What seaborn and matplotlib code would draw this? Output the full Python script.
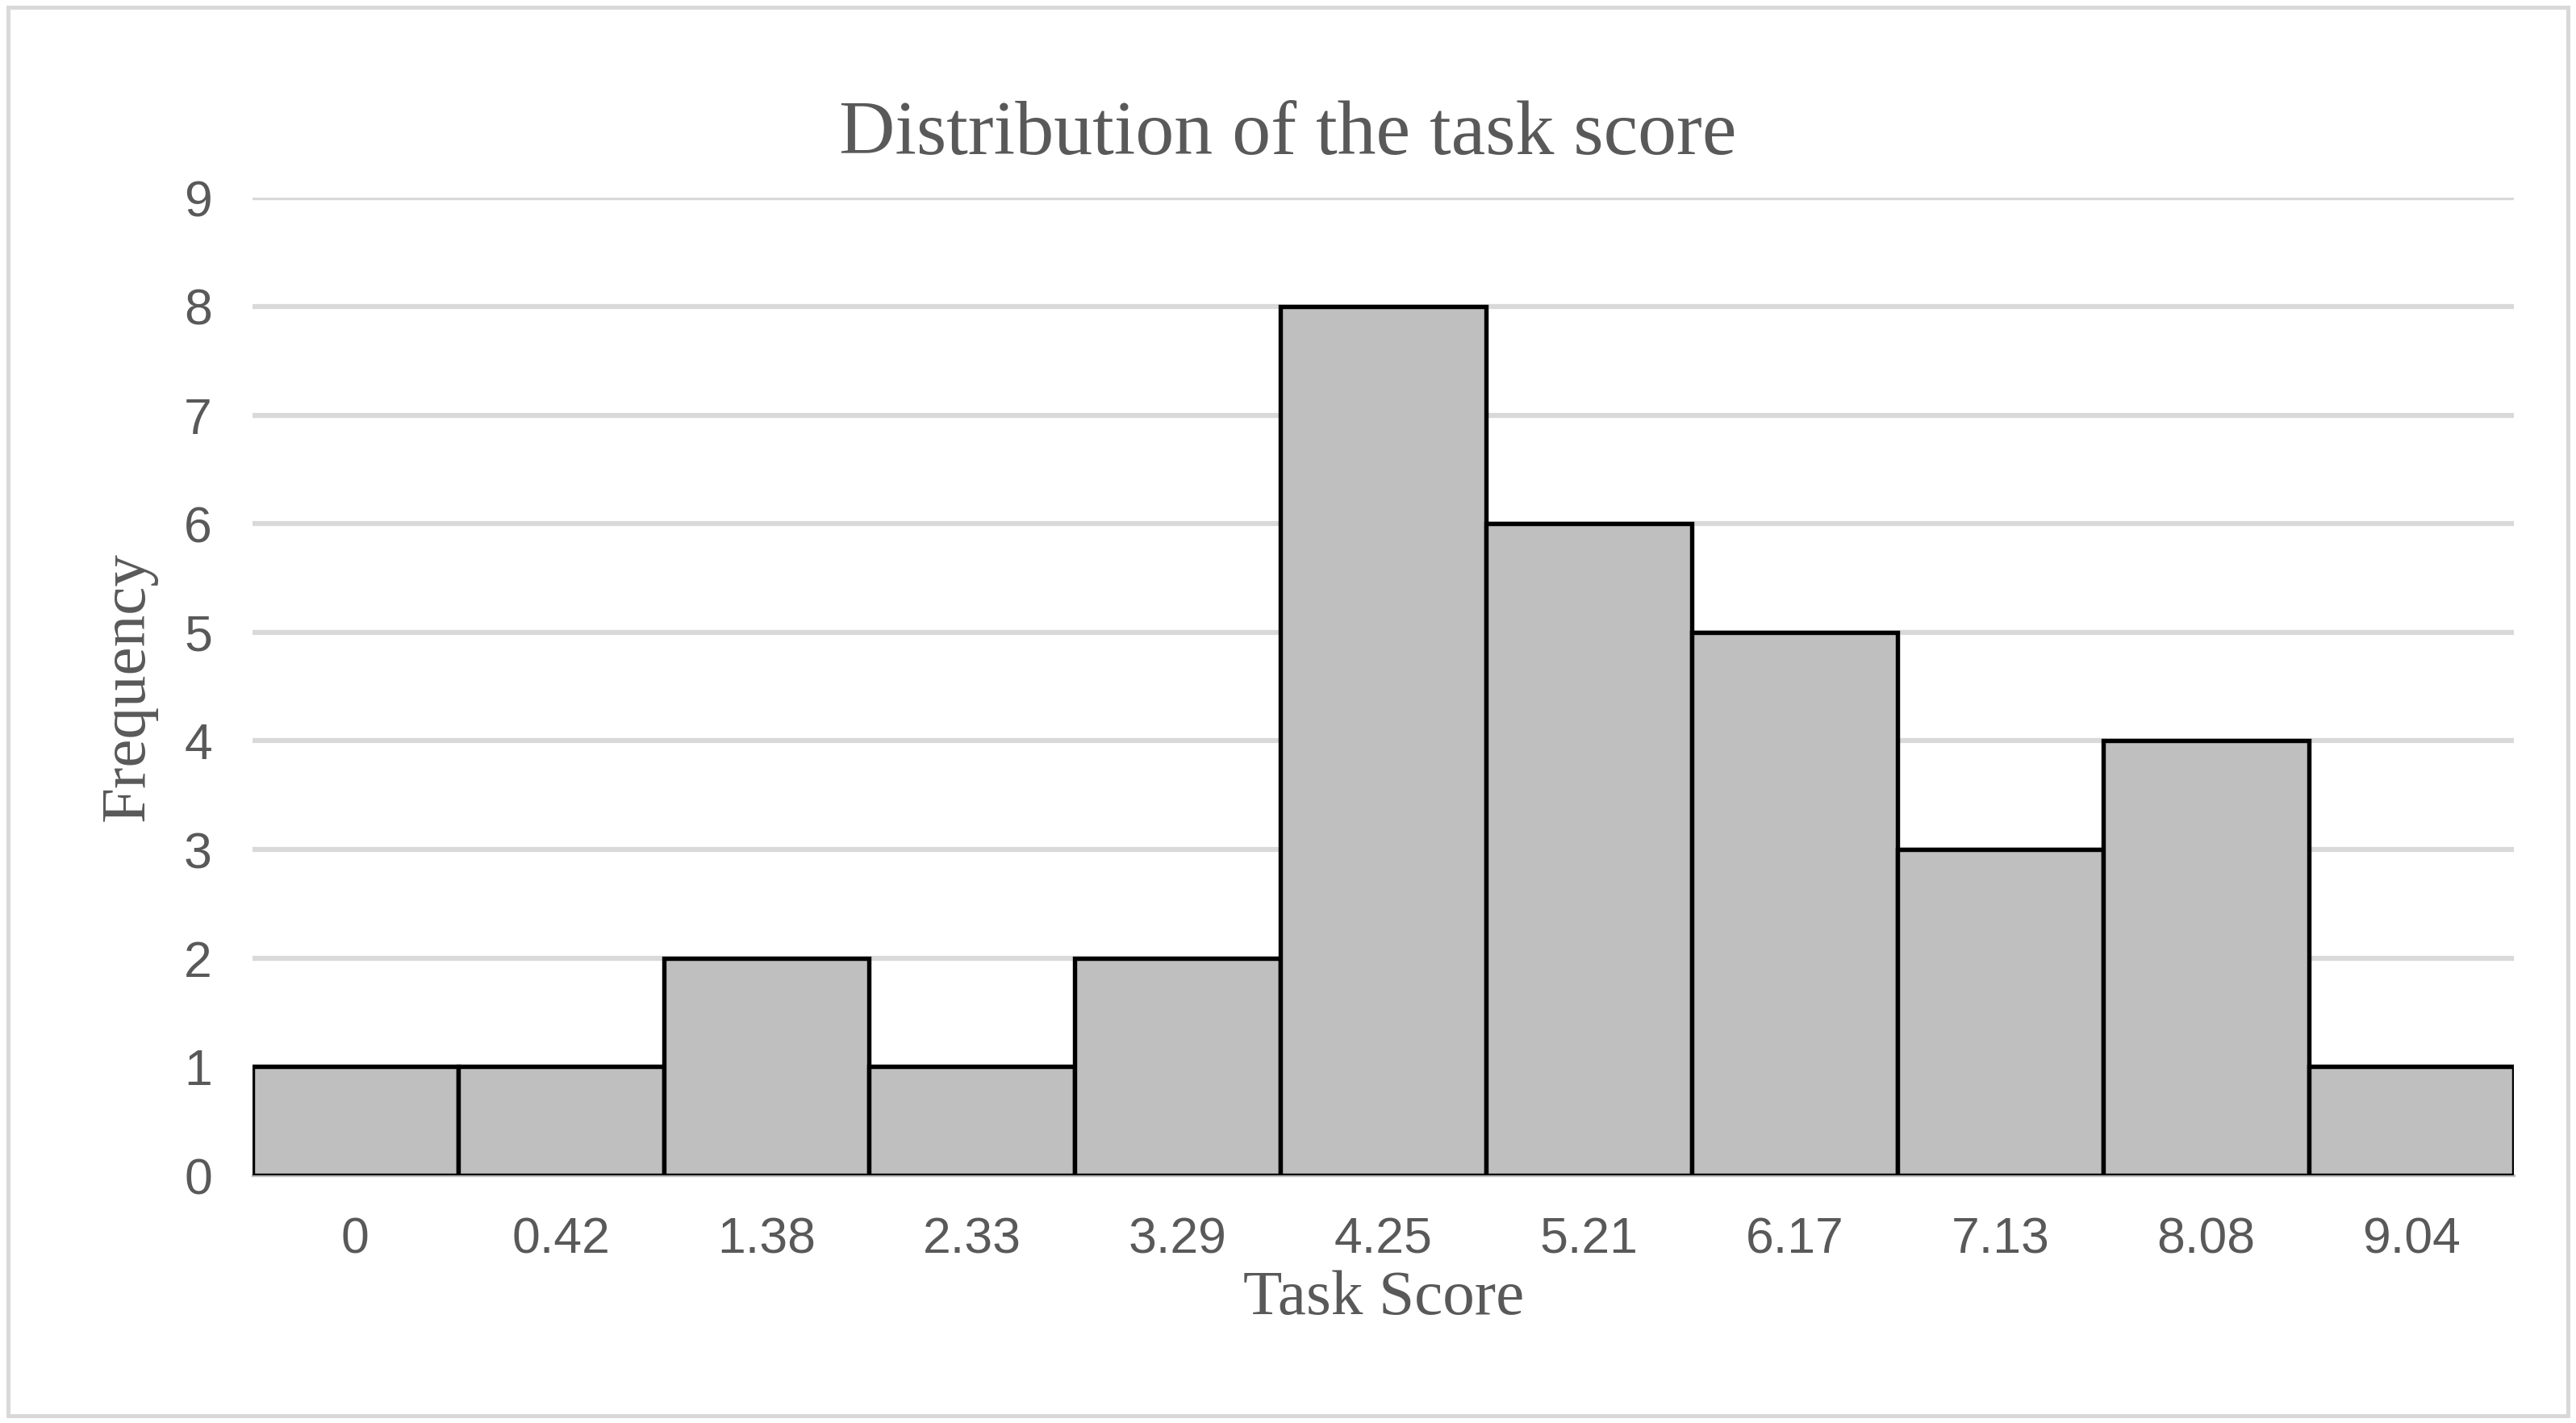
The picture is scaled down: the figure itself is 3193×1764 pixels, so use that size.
import matplotlib.pyplot as plt
import seaborn as sns
import pandas as pd

bins = ["0", "0.42", "1.38", "2.33", "3.29", "4.25", "5.21", "6.17", "7.13", "8.08", "9.04"]
counts = [1, 1, 2, 1, 2, 8, 6, 5, 3, 4, 1]

df = pd.DataFrame({"bin": bins, "count": counts})

sns.set_style("white")
plt.rcParams['font.family'] = ['Liberation Sans', 'DejaVu Sans']

fig = plt.figure(figsize=(3193 / 300, 1764 / 300), dpi=300)
ax = fig.add_axes([0.098, 0.174, 0.878, 0.687])

sns.barplot(data=df, x="bin", y="count", order=bins, color="#bfbfbf",
            edgecolor="black", linewidth=1.3, width=1.0, saturation=1, ax=ax, zorder=3)

ax.set_ylim(0, 9)
ax.set_xlim(-0.5, len(bins) - 0.5)
ax.set_yticks(range(10))
ax.yaxis.grid(True, color="#d9d9d9", linewidth=1.5, zorder=0)
ax.set_axisbelow(True)
for s in ["top", "right", "left"]:
    ax.spines[s].set_visible(False)
ax.spines["bottom"].set_color("#bfbfbf")
ax.tick_params(axis="both", length=0, labelsize=15, colors="#595959", pad=12)

serif = ['Liberation Serif', 'DejaVu Serif']
ax.set_xlabel("Task Score", fontsize=19, color="#595959", family=serif, labelpad=2)
ax.set_ylabel("Frequency", fontsize=19, color="#595959", family=serif, labelpad=8)
fig.text(0.5, 0.905, "Distribution of the task score", ha="center", va="center",
         fontsize=23, color="#595959", family=serif)

fig.patches.append(plt.Rectangle((0.003, 0.005), 0.994, 0.99, transform=fig.transFigure,
                                 fill=False, edgecolor="#d9d9d9", linewidth=1.2))

fig.savefig("out.png", dpi=300)
